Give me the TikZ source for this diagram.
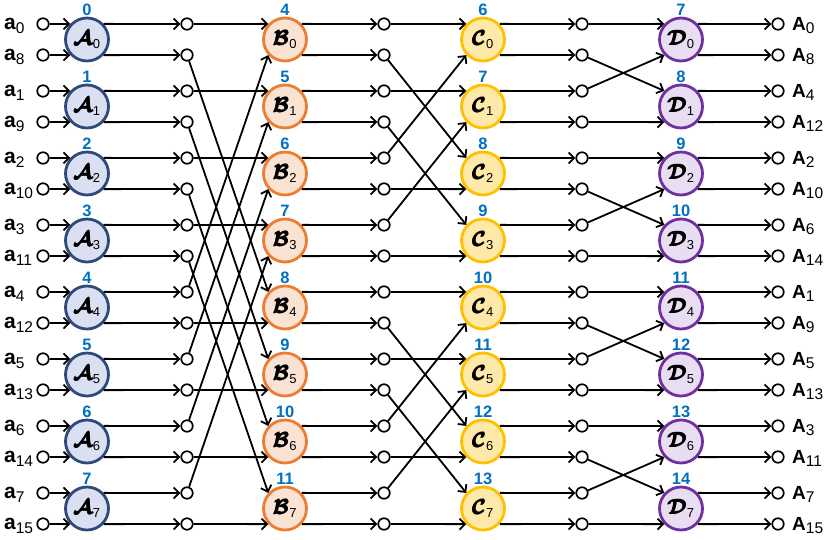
\documentclass[tikz,border=0pt]{standalone}
\usepackage{amsmath,bm}
\usepackage{fontspec}
\setmainfont{Liberation Sans}
\usetikzlibrary{arrows.meta}
\definecolor{Afill}{HTML}{DAE0F2}
\definecolor{Adraw}{HTML}{2F4A78}
\definecolor{Bfill}{HTML}{FBE3D4}
\definecolor{Bdraw}{HTML}{ED7D31}
\definecolor{Cfill}{HTML}{FFE9A8}
\definecolor{Cdraw}{HTML}{FFC000}
\definecolor{Dfill}{HTML}{E8DDF2}
\definecolor{Ddraw}{HTML}{7030A0}
\definecolor{numblue}{HTML}{0070C0}
\newcommand{\nodetxt}[2]{{\fontsize{20}{20}\selectfont$\pmb{\bm{\mathcal{#1}}}$}{\fontsize{13}{13}\selectfont\raisebox{-3pt}{#2}}}
\newcommand{\inlab}[1]{{\fontsize{21}{21}\selectfont\bfseries a}{\fontsize{15.5}{15.5}\selectfont\raisebox{-3.5pt}{#1}}}
\newcommand{\outlab}[1]{{\fontsize{19}{19}\selectfont\bfseries A}{\fontsize{15.5}{15.5}\selectfont\raisebox{-3.3pt}{#1}}}
\tikzset{
  arr/.style={line width=1.8pt, -{Straight Barb[length=5.5pt,width=11pt]}},
  sm/.style={circle, draw=black, fill=white, line width=1.7pt, minimum size=11.5pt, inner sep=0pt},
  big/.style={circle, line width=2.8pt, minimum size=43pt, inner sep=0pt},
  bigA/.style={big, draw=Adraw, fill=Afill},
  bigB/.style={big, draw=Bdraw, fill=Bfill},
  bigC/.style={big, draw=Cdraw, fill=Cfill},
  bigD/.style={big, draw=Ddraw, fill=Dfill},
  num/.style={anchor=base, text=numblue, font=\fontsize{16.5}{16.5}\selectfont\bfseries, inner sep=0pt},
  lbl/.style={anchor=base west, inner sep=0pt}
}
\begin{document}
\begin{tikzpicture}[x=1pt,y=-1pt]
\useasboundingbox (0,0) rectangle (829,539);
% small circles
\foreach \r in {0,...,15}{
  \pgfmathsetmacro\yy{24+67*int(\r/2)+31*mod(\r,2)}
  \node[sm] (in\r) at (43,\yy) {};
  \node[sm] (ma\r) at (187,\yy) {};
  \node[sm] (mb\r) at (384,\yy) {};
  \node[sm] (mc\r) at (582,\yy) {};
  \node[sm] (ou\r) at (778,\yy) {};
}
% input labels
\foreach \r/\s in {0/0,1/8,2/1,3/9,4/2,5/10,6/3,7/11,8/4,9/12,10/5,11/13,12/6,13/14,14/7,15/15}{
  \pgfmathsetmacro\yy{24+67*int(\r/2)+31*mod(\r,2)+5.5}
  \node[lbl] (la\r) at (4,\yy) {\inlab{\s}};
}
% output labels
\foreach \r/\s in {0/0,1/8,2/4,3/12,4/2,5/10,6/6,7/14,8/1,9/9,10/5,11/13,12/3,13/11,14/7,15/15}{
  \pgfmathsetmacro\yy{24+67*int(\r/2)+31*mod(\r,2)+6.5}
  \node[lbl] (lo\r) at (792,\yy) {\outlab{\s}};
}
% big nodes
\foreach \j in {0,...,7}{
  \pgfmathsetmacro\cy{39.5+67*\j}
  \pgfmathtruncatemacro\nb{\j+4}
  \pgfmathtruncatemacro\nc{\j+6}
  \pgfmathtruncatemacro\nd{\j+7}
  \node[bigA] (A\j) at (87,\cy) {\nodetxt{A}{\j}};
  \node[bigB] (B\j) at (285,\cy) {\nodetxt{B}{\j}};
  \node[bigC] (C\j) at (483,\cy) {\nodetxt{C}{\j}};
  \node[bigD] (D\j) at (681,\cy) {\nodetxt{D}{\j}};
  \node[num] (nA\j) at ([yshift=1pt]A\j.north) {\j};
  \node[num] (nB\j) at ([yshift=1pt]B\j.north) {\nb};
  \node[num] (nC\j) at ([yshift=1pt]C\j.north) {\nc};
  \node[num] (nD\j) at ([yshift=1pt]D\j.north) {\nd};
}
% straight connectors
\foreach \j in {0,...,7}{
  \pgfmathtruncatemacro\u{2*\j}
  \pgfmathtruncatemacro\l{2*\j+1}
  \draw[arr] (in\u) -- (A\j.137);
  \draw[arr] (in\l) -- (A\j.-137);
  \draw[arr] (A\j.43) -- (ma\u);
  \draw[arr] (A\j.-43) -- (ma\l);
  \draw[arr] (B\j.43) -- (mb\u);
  \draw[arr] (B\j.-43) -- (mb\l);
  \draw[arr] (C\j.43) -- (mc\u);
  \draw[arr] (C\j.-43) -- (mc\l);
  \draw[arr] (D\j.43) -- (ou\u);
  \draw[arr] (D\j.-43) -- (ou\l);
}
% permutation stages
\foreach \j/\su/\sl in {0/0/8,1/2/10,2/4/12,3/6/14,4/1/9,5/3/11,6/5/13,7/7/15}{
  \draw[arr] (ma\su) -- (B\j.137);
  \draw[arr] (ma\sl) -- (B\j.-137);
}
\foreach \j/\su/\sl in {0/0/4,1/2/6,2/1/5,3/3/7,4/8/12,5/10/14,6/9/13,7/11/15}{
  \draw[arr] (mb\su) -- (C\j.137);
  \draw[arr] (mb\sl) -- (C\j.-137);
}
\foreach \j/\su/\sl in {0/0/2,1/1/3,2/4/6,3/5/7,4/8/10,5/9/11,6/12/14,7/13/15}{
  \draw[arr] (mc\su) -- (D\j.137);
  \draw[arr] (mc\sl) -- (D\j.-137);
}
\end{tikzpicture}
\end{document}
